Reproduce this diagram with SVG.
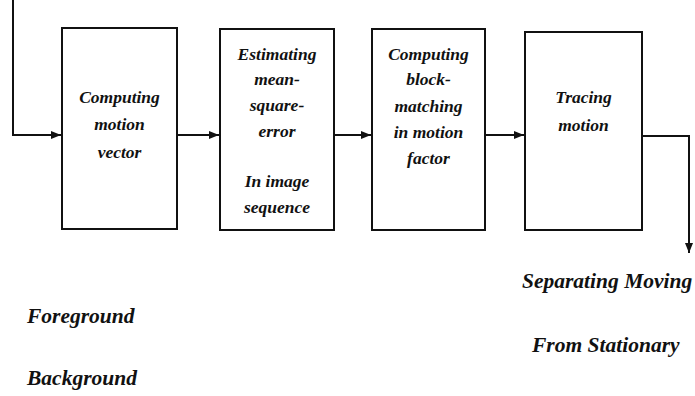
<svg xmlns="http://www.w3.org/2000/svg" width="695" height="396" viewBox="0 0 695 396">
<defs>
<marker id="ah" markerWidth="10" markerHeight="8" refX="10" refY="4" orient="auto" markerUnits="userSpaceOnUse">
<path d="M0,0 L10,4 L0,8 Z" fill="#111"/>
</marker>
<style>
.box{fill:#fff;stroke:#111;stroke-width:2}
.t{font-family:"Liberation Serif","Times New Roman",serif;font-weight:bold;font-style:italic;font-size:17.5px;fill:#111;text-anchor:middle}
.b{font-family:"Liberation Serif","Times New Roman",serif;font-weight:bold;font-style:italic;font-size:21.5px;fill:#111}
.c{fill:none;stroke:#111;stroke-width:2}
</style>
</defs>
<rect width="695" height="396" fill="#fff"/>
<g id="connectors">
<path class="c" d="M13,0 V135 H61" marker-end="url(#ah)"/>
<path class="c" d="M177,135 H219" marker-end="url(#ah)"/>
<path class="c" d="M334,135 H371" marker-end="url(#ah)"/>
<path class="c" d="M485,135 H524" marker-end="url(#ah)"/>
<path class="c" d="M642,136 H689 V253" marker-end="url(#ah)"/>
</g>
<g id="n1">
<rect class="box" x="62" y="28" width="115" height="201"/>
<text class="t" x="119.5" y="103">Computing</text>
<text class="t" x="119.5" y="130">motion</text>
<text class="t" x="119.5" y="158">vector</text>
</g>
<g id="n2">
<rect class="box" x="220" y="29" width="114" height="201"/>
<text class="t" x="277" y="60">Estimating</text>
<text class="t" x="277" y="85">mean-</text>
<text class="t" x="277" y="111">square-</text>
<text class="t" x="277" y="137">error</text>
<text class="t" x="277" y="187">In image</text>
<text class="t" x="277" y="213">sequence</text>
</g>
<g id="n3">
<rect class="box" x="372" y="29" width="113" height="201"/>
<text class="t" x="428.5" y="60">Computing</text>
<text class="t" x="428.5" y="85">block-</text>
<text class="t" x="428.5" y="112">matching</text>
<text class="t" x="428.5" y="138">in motion</text>
<text class="t" x="428.5" y="164">factor</text>
</g>
<g id="n4">
<rect class="box" x="525" y="32" width="117" height="198"/>
<text class="t" x="583.5" y="103">Tracing</text>
<text class="t" x="583.5" y="131">motion</text>
</g>
<g id="labels">
<text class="b" x="522" y="288">Separating Moving</text>
<text class="b" x="532" y="352">From Stationary</text>
<text class="b" x="27" y="323">Foreground</text>
<text class="b" x="27" y="385">Background</text>
</g>
</svg>
